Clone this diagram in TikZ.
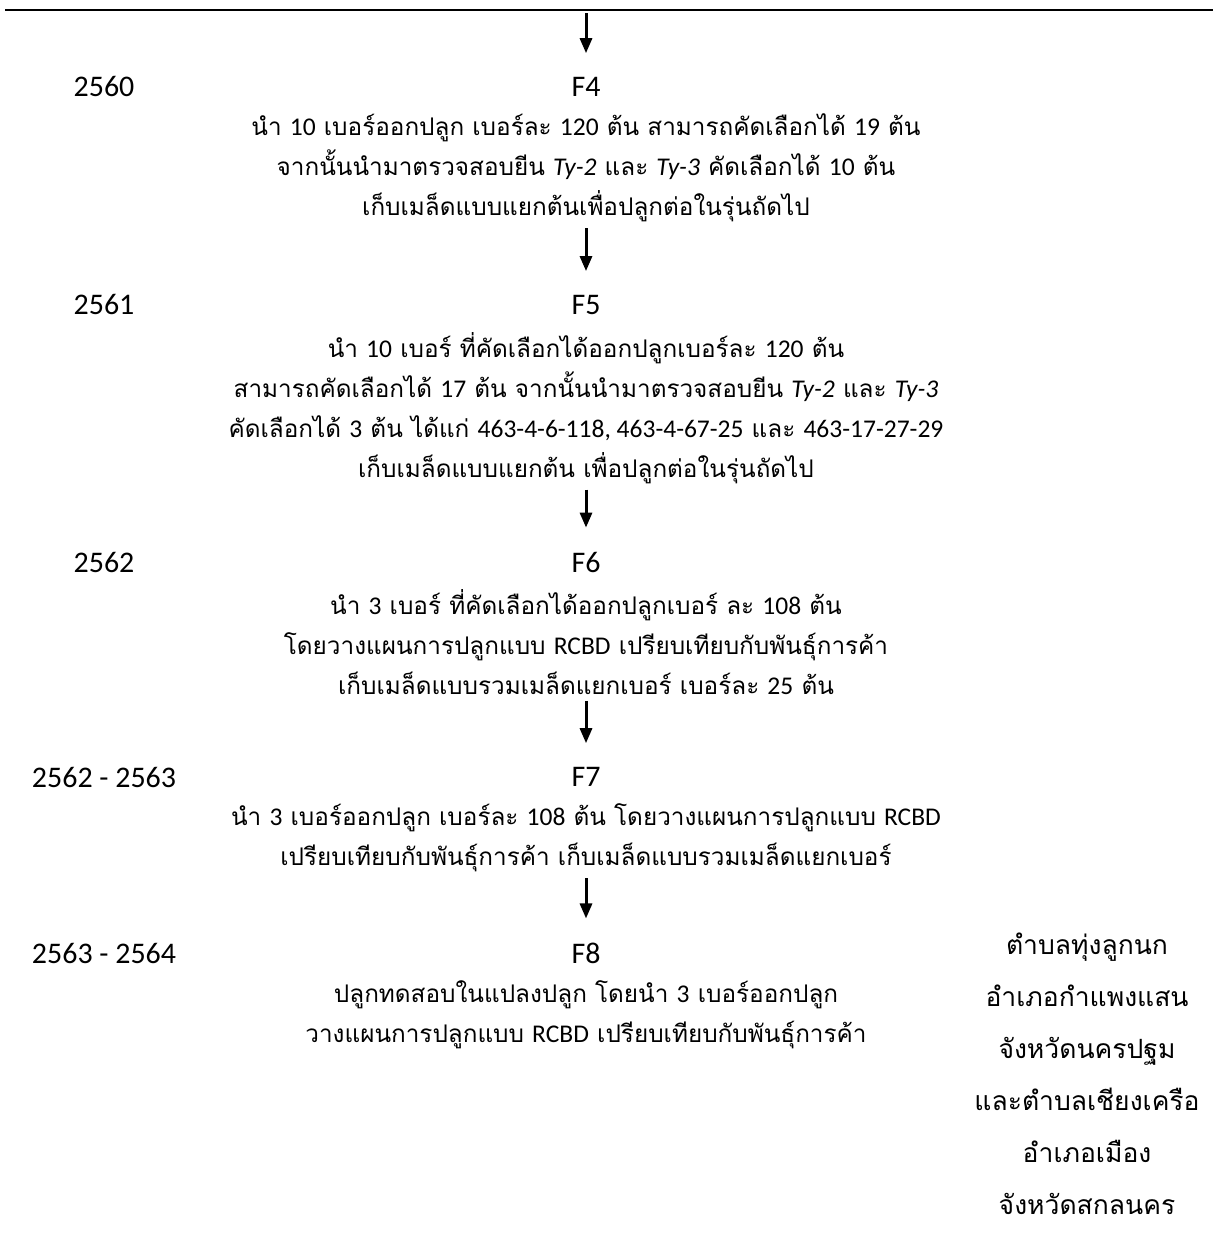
\documentclass[tikz,border=0pt]{standalone}
\usepackage{fontspec}
\setmainfont{Loma}[Script=Thai]
\newfontfamily\latin{Carlito}[Scale=1.05]
\newcommand{\la}[1]{{\latin #1}}
\usetikzlibrary{positioning,arrows.meta}

\begin{document}
\begin{tikzpicture}[x=1pt,y=-1pt,
    yearlabel/.style={inner sep=0pt, font=\latin\fontsize{28.5}{40}\selectfont},
    genlabel/.style={inner sep=0pt, font=\latin\fontsize{28.5}{40}\selectfont},
    steptext/.style={align=center, inner sep=0pt, font=\fontsize{24.3}{40}\selectfont},
    placetext/.style={align=center, inner sep=0pt, font=\fontsize{26.5}{52}\selectfont},
    flow/.style={-{Triangle[length=15pt,width=12pt]}, line width=3pt,
                 shorten <=6pt, shorten >=24pt},
  ]
  \useasboundingbox (0,0) rectangle (1213,1234);
  \draw[line width=2.5pt] (5,10) -- (1213,10);
  \coordinate (top) at (586,13);

  % generations
  \node [genlabel] (f4) at (586,87)  {F4};
  \node [genlabel] (f5) at (586,305) {F5};
  \node [genlabel] (f6) at (586,562) {F6};
  \node [genlabel] (f7) at (586,777) {F7};
  \node [genlabel] (f8) at (586,953) {F8};

  % years
  \node [yearlabel] (y4) at (104,87)  {2560};
  \node [yearlabel] (y5) at (104,305) {2561};
  \node [yearlabel] (y6) at (104,562) {2562};
  \node [yearlabel] (y7) at (104,777) {2562 - 2563};
  \node [yearlabel] (y8) at (104,953) {2563 - 2564};

  % what was done
  \node [steptext, below=17pt of f4] (t4) {นำ \la{10} เบอร์ออกปลูก เบอร์ละ \la{120} ต้น สามารถคัดเลือกได้ \la{19} ต้น\\
    จากนั้นนำมาตรวจสอบยีน \la{\textit{Ty-2}} และ \la{\textit{Ty-3}} คัดเลือกได้ \la{10} ต้น\\
    เก็บเมล็ดแบบแยกต้นเพื่อปลูกต่อในรุ่นถัดไป};
  \node [steptext, below=17pt of f5] (t5) {นำ \la{10} เบอร์ ที่คัดเลือกได้ออกปลูกเบอร์ละ \la{120} ต้น\\
    สามารถคัดเลือกได้ \la{17} ต้น จากนั้นนำมาตรวจสอบยีน \la{\textit{Ty-2}} และ \la{\textit{Ty-3}}\\
    คัดเลือกได้ \la{3} ต้น ได้แก่ \la{463-4-6-118, 463-4-67-25} และ \la{463-17-27-29}\\
    เก็บเมล็ดแบบแยกต้น เพื่อปลูกต่อในรุ่นถัดไป};
  \node [steptext, below=17pt of f6] (t6) {นำ \la{3} เบอร์ ที่คัดเลือกได้ออกปลูกเบอร์ ละ \la{108} ต้น\\
    โดยวางแผนการปลูกแบบ \la{RCBD} เปรียบเทียบกับพันธุ์การค้า\\
    เก็บเมล็ดแบบรวมเมล็ดแยกเบอร์ เบอร์ละ \la{25} ต้น};
  \node [steptext, below=17pt of f7] (t7) {นำ \la{3} เบอร์ออกปลูก เบอร์ละ \la{108} ต้น โดยวางแผนการปลูกแบบ \la{RCBD}\\
    เปรียบเทียบกับพันธุ์การค้า เก็บเมล็ดแบบรวมเมล็ดแยกเบอร์};
  \node [steptext, below=17pt of f8] (t8) {ปลูกทดสอบในแปลงปลูก โดยนำ \la{3} เบอร์ออกปลูก\\
    วางแผนการปลูกแบบ \la{RCBD} เปรียบเทียบกับพันธุ์การค้า};

  % where
  \node [placetext, anchor=north] (site) at (1087,933) {ตำบลทุ่งลูกนก\\
    อำเภอกำแพงแสน\\ จังหวัดนครปฐม\\ และตำบลเชียงเครือ\\ อำเภอเมือง\\ จังหวัดสกลนคร};

  \draw [flow, shorten <=0pt] (top) -- (f4);
  \draw [flow] (t4) -- (f5);
  \draw [flow] (t5) -- (f6);
  \draw [flow] (t6) -- (f7);
  \draw [flow] (t7) -- (f8);
\end{tikzpicture}
\end{document}
